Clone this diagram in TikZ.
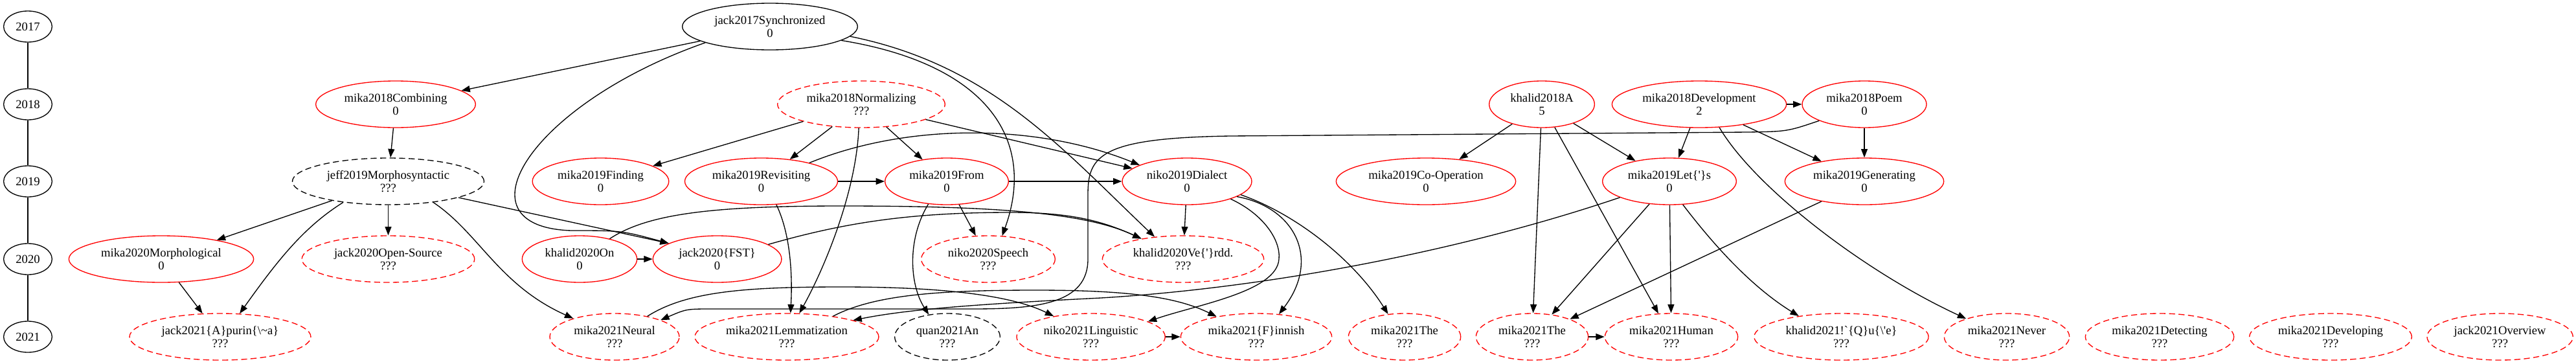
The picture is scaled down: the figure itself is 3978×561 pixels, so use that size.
\documentclass[tikz,border=0pt]{standalone}
\usepackage{fontspec}
\setmainfont{Liberation Serif}[Ligatures=TeXOff]
\usetikzlibrary{shapes,arrows.meta}

\begin{document}
\begin{tikzpicture}[x=0.75pt,y=-0.75pt,
  every node/.style={font=\fontsize{14}{15}\selectfont},
  year/.style={ellipse,draw,line width=1pt,minimum width=56pt,minimum height=36pt,inner sep=0pt},
  known/.style={ellipse,draw=red,line width=1pt,minimum height=54pt,inner sep=0pt,align=center},
  unknown/.style={known,dash pattern=on 7pt off 4pt},
  seed/.style={known,draw=black},
  phantom/.style={unknown,draw=black},
  link/.style={line width=1pt,-{Triangle[length=10pt,width=7.5pt]}}]
\useasboundingbox (0,0) rectangle (3978,561);

% time line
\node[year] (y2017) at (43,41) {2017};
\node[year] (y2018) at (43,161) {2018};
\node[year] (y2019) at (43,280) {2019};
\node[year] (y2020) at (43,400) {2020};
\node[year] (y2021) at (43,520) {2021};
\draw[line width=1pt] (y2017) -- (y2018);
\draw[line width=1pt] (y2018) -- (y2019);
\draw[line width=1pt] (y2019) -- (y2020);
\draw[line width=1pt] (y2020) -- (y2021);

% 2017
\node[seed,minimum width=203pt] (jack17) at (1189,41) {jack2017Synchronized\\0};

% 2018
\node[known,minimum width=185pt] (comb18) at (611,161) {mika2018Combining\\0};
\node[unknown,minimum width=194pt] (norm18) at (1330,161) {mika2018Normalizing\\???};
\node[known,minimum width=122pt] (khalid18) at (2381,161) {khalid2018A\\5};
\node[known,minimum width=202pt] (devel18) at (2624,161) {mika2018Development\\2};
\node[known,minimum width=144pt] (poem18) at (2879,161) {mika2018Poem\\0};

% 2019
\node[phantom,minimum width=222pt] (morpho19) at (599.5,280) {jeff2019Morphosyntactic\\???};
\node[known,minimum width=158pt] (finding19) at (927.5,280) {mika2019Finding\\0};
\node[known,minimum width=177pt] (revis19) at (1175.5,280) {mika2019Revisiting\\0};
\node[known,minimum width=143pt] (from19) at (1462,280) {mika2019From\\0};
\node[known,minimum width=150pt] (dialect19) at (1833,280) {niko2019Dialect\\0};
\node[known,minimum width=208pt] (coop19) at (2202,280) {mika2019Co-Operation\\0};
\node[known,minimum width=155pt] (lets19) at (2578,280) {mika2019Let\{'\}s\\0};
\node[known,minimum width=184pt] (gen19) at (2879,280) {mika2019Generating\\0};

% 2020
\node[known,minimum width=214pt] (morphol20) at (249,400) {mika2020Morphological\\0};
\node[unknown,minimum width=200pt] (open20) at (599.5,400) {jack2020Open-Source\\???};
\node[known,minimum width=133pt] (on20) at (895,400) {khalid2020On\\0};
\node[known,minimum width=149pt] (fst20) at (1107.6,400) {jack2020\{FST\}\\0};
\node[unknown,minimum width=155pt] (speech20) at (1526,400) {niko2020Speech\\???};
\node[unknown,minimum width=187pt] (verdd20) at (1827,400) {khalid2020Ve\{'\}rdd.\\???};

% 2021
\node[unknown,minimum width=210pt] (apurin21) at (340,520) {jack2021\{A\}purin\{\textbackslash\textasciitilde a\}\\???};
\node[unknown,minimum width=150pt] (neural21) at (949,520) {mika2021Neural\\???};
\node[unknown,minimum width=213pt] (lemma21) at (1215,520) {mika2021Lemmatization\\???};
\node[phantom,minimum width=122pt] (quan21) at (1463,520) {quan2021An\\???};
\node[unknown,minimum width=172pt] (ling21) at (1684.6,520) {niko2021Linguistic\\???};
\node[unknown,minimum width=175pt] (finnish21) at (1940,520) {mika2021\{F\}innish\\???};
\node[unknown,minimum width=130pt] (the21a) at (2169,520) {mika2021The\\???};
\node[unknown,minimum width=130pt] (the21b) at (2366,520) {mika2021The\\???};
\node[unknown,minimum width=154pt] (human21) at (2581,520) {mika2021Human\\???};
\node[unknown,minimum width=202pt] (quich21) at (2843.5,520) {khalid2021!`\{Q\}u\{\textbackslash'e\}\\???};
\node[unknown,minimum width=145pt] (never21) at (3099,520) {mika2021Never\\???};
\node[unknown,minimum width=172pt] (detect21) at (3335,520) {mika2021Detecting\\???};
\node[unknown,minimum width=188pt] (develop21) at (3599,520) {mika2021Developing\\???};
\node[unknown,minimum width=169pt] (overview21) at (3860.6,520) {jack2021Overview\\???};

% citations
\draw[link] (jack17) -- (comb18);
\draw[link] (jack17.194) .. controls (820,160) and (700,350) .. (882,356) .. controls (960,356) .. (fst20.162);
\draw[link] (jack17.349) .. controls (1530,100) and (1600,220) .. (speech20.59);
\draw[link] (jack17.353) .. controls (1530,100) and (1640,230) .. (verdd20.142);
\draw[link] (comb18) -- (morpho19);
\draw[link] (norm18) -- (finding19);
\draw[link] (norm18) -- (revis19);
\draw[link] (norm18.264) .. controls (1322,300) and (1270,420) .. (lemma21.62);
\draw[link] (norm18) -- (from19);
\draw[link] (norm18) -- (dialect19);
\draw[link] (khalid18) -- (coop19);
\draw[link] (khalid18) -- (lets19);
\draw[link] (khalid18) -- (the21b);
\draw[link] (khalid18) -- (human21);
\draw[link] (devel18) -- (lets19);
\draw[link] (devel18) -- (poem18);
\draw[link] (devel18) -- (gen19);
\draw[link] (devel18.311) .. controls (2710,290) and (2880,420) .. (never21.156);
\draw[link] (poem18) -- (gen19);
\draw[link] (poem18.200) .. controls (2760,203) .. (2700,204) -- (1900,210) .. controls (1700,213) and (1680,240) .. (1680,300) -- (1680,400) .. controls (1680,470) and (1600,477) .. (1500,477) -- (1100,477) .. controls (1060,477) .. (neural21.20);
\draw[link] (morpho19) -- (morphol20);
\draw[link] (morpho19) -- (open20);
\draw[link] (morpho19.205) .. controls (470,350) and (430,400) .. (apurin21.50);
\draw[link] (morpho19.335) .. controls (740,360) and (770,440) .. (neural21.156);
\draw[link] (morpho19.347) -- (fst20.162);
\draw[link] (revis19) -- (from19);
\draw[link] (revis19.21) .. controls (1400,190) and (1600,190) .. (dialect19.161);
\draw[link] (revis19.303) .. controls (1220,360) and (1224,420) .. (lemma21.81);
\draw[link] (from19) -- (dialect19);
\draw[link] (from19) -- (speech20);
\draw[link] (from19.231) .. controls (1400,370) and (1405,440) .. (quan21.130);
\draw[link] (dialect19) -- (verdd20);
\draw[link] (dialect19.338) .. controls (1950,330) and (1978,370) .. (1975,400) .. controls (1972,450) and (1850,470) .. (ling21.15);
\draw[link] (dialect19.343) .. controls (2000,320) and (2040,400) .. (finnish21.45);
\draw[link] (dialect19.346) .. controls (2000,330) and (2090,400) .. (the21a.126);
\draw[link] (lets19) -- (the21b);
\draw[link] (lets19) -- (human21);
\draw[link] (lets19.300) .. controls (2640,370) and (2700,440) .. (quich21.154);
\draw[link] (lets19.198) .. controls (2250,390) and (1950,445) .. (1700,460) .. controls (1500,470) and (1400,478) .. (lemma21.14);
\draw[link] (gen19) -- (the21b);
\draw[link] (morphol20) -- (apurin21);
\draw[link] (on20) -- (fst20);
\draw[link] (on20.34) .. controls (1000,330) and (1100,318) .. (1300,318) .. controls (1550,318) and (1680,330) .. (verdd20.154);
\draw[link] (fst20.16) .. controls (1300,345) and (1400,328) .. (1560,328) .. controls (1650,328) and (1700,340) .. (verdd20.154);
\draw[link] (neural21.32) .. controls (1060,450) and (1150,443) .. (1300,443) .. controls (1450,443) and (1560,455) .. (ling21.151);
\draw[link] (lemma21.24) .. controls (1350,455) and (1450,448) .. (1600,448) .. controls (1750,448) and (1820,460) .. (finnish21.153);
\draw[link] (ling21) -- (finnish21);
\draw[link] (the21b) -- (human21);
\end{tikzpicture}
\end{document}
